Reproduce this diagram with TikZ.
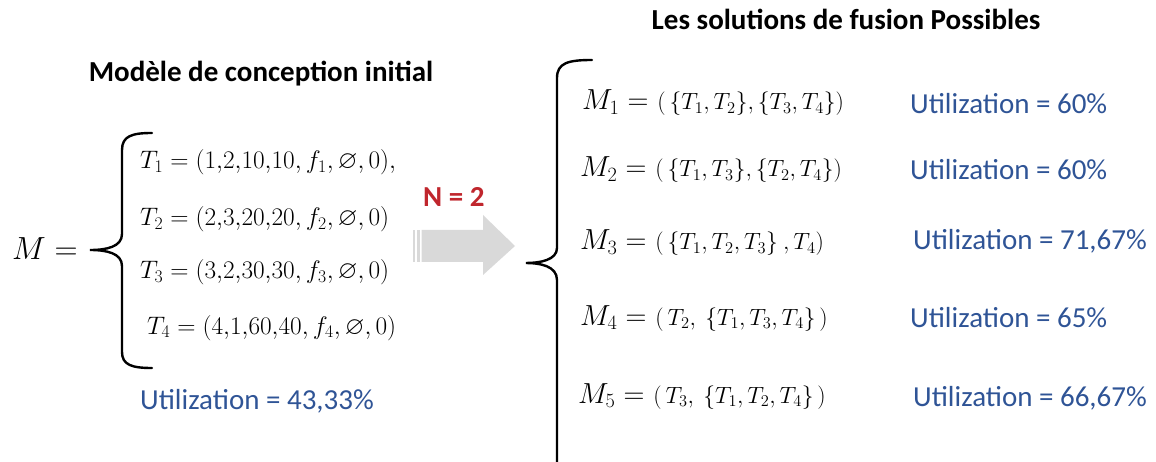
\documentclass[tikz,border=0pt]{standalone}
\usepackage{fix-cm}
\usepackage{amssymb}
\usepackage{fontspec}
\setmainfont{Carlito}
\definecolor{ublue}{RGB}{47,84,150}
\definecolor{nred}{RGB}{192,38,45}
\definecolor{agrey}{RGB}{217,217,217}
\newcommand{\sfz}{\fontsize{29}{33}\selectfont}
\newcommand{\mbig}{\fontsize{29}{33}\selectfont}
\newcommand{\msmall}{\fontsize{23.5}{27}\selectfont}
\newcommand{\tsz}{\fontsize{25.3}{29}\selectfont}
\begin{document}
\begin{tikzpicture}[x=1pt,y=-1pt,
  lbl/.style={anchor=base west,inner sep=0pt,font=\sfz},
  ttl/.style={anchor=base,inner sep=0pt,font=\sfz\bfseries},
  util/.style={lbl,text=ublue},
  trow/.style={anchor=base west,inner sep=0pt,font=\tsz},
  mrow/.style={anchor=base west,inner sep=0pt},
  brace/.style={line width=2.4pt,line cap=round}]
\useasboundingbox (0,0) rectangle (1156,462);

% titles
\node[ttl] (t2) at (846,30) {Les solutions de fusion Possibles};
\node[ttl] (t1) at (261,82) {Modèle de conception initial};

% left model
\node[anchor=base west,inner sep=0pt,font=\fontsize{32}{36}\selectfont] (M) at (12,260) {$M =$};
\draw[brace] (152,133) .. controls (132,133) and (122,136) .. (122,150) -- (122,234)
  .. controls (122,247) and (106,250) .. (90,250)
  .. controls (106,250) and (122,253) .. (122,266) -- (122,352)
  .. controls (122,365) and (132,368) .. (152,368);
\node[trow] (T1) at (140,169) {$T_1 = (1{,}2{,}10{,}10, f_1, \varnothing, 0),$};
\node[trow] (T2) at (140,226) {$T_2 = (2{,}3{,}20{,}20, f_2, \varnothing, 0)$};
\node[trow] (T3) at (140,279) {$T_3 = (3{,}2{,}30{,}30, f_3, \varnothing, 0)$};
\node[trow] (T4) at (147,334) {$T_4 = (4{,}1{,}60{,}40, f_4, \varnothing, 0)$};
\node[util] (u0) at (140,409) {Utilization = 43,33\%};

% arrow
\node[lbl,text=nred,font=\sfz\bfseries] (N) at (423,207) {N = 2};
\fill[agrey] (413,230) rectangle (415,262);
\fill[agrey] (417,230) rectangle (419.5,262);
\fill[agrey] (421.5,230) -- (483,230) -- (483,215) -- (515,246) -- (483,275) -- (483,262) -- (421.5,262) -- cycle;

% right brace
\draw[brace] (592,60) .. controls (568,60) and (557,63) .. (557,78) -- (557,248)
  .. controls (557,260) and (540,263) .. (526,263)
  .. controls (540,263) and (557,266) .. (557,280) -- (557,462);

% solutions
\node[mrow] (M1) at (582,110) {{\mbig$M_1 =$}\hspace{9pt}{\msmall$(\,\{T_1,T_2\},\{T_3,T_4\})$}};
\node[mrow] (M2) at (580,177) {{\mbig$M_2 =$}\hspace{9pt}{\msmall$(\,\{T_1,T_3\},\{T_2,T_4\})$}};
\node[mrow] (M3) at (580,250) {{\mbig$M_3 =$}\hspace{9pt}{\msmall$(\,\{T_1,T_2,T_3\}\ ,T_4)$}};
\node[mrow] (M4) at (580,325) {{\mbig$M_4 =$}\hspace{9pt}{\msmall$(\,T_2,\ \{T_1,T_3,T_4\}\,)$}};
\node[mrow] (M5) at (578,403) {{\mbig$M_5 =$}\hspace{9pt}{\msmall$(\,T_3,\ \{T_1,T_2,T_4\}\,)$}};

\node[util] (u1) at (910,114) {Utilization = 60\%};
\node[util] (u2) at (910,180) {Utilization = 60\%};
\node[util] (u3) at (913,250) {Utilization = 71,67\%};
\node[util] (u4) at (910,327) {Utilization = 65\%};
\node[util] (u5) at (913,406) {Utilization = 66,67\%};
\end{tikzpicture}
\end{document}
